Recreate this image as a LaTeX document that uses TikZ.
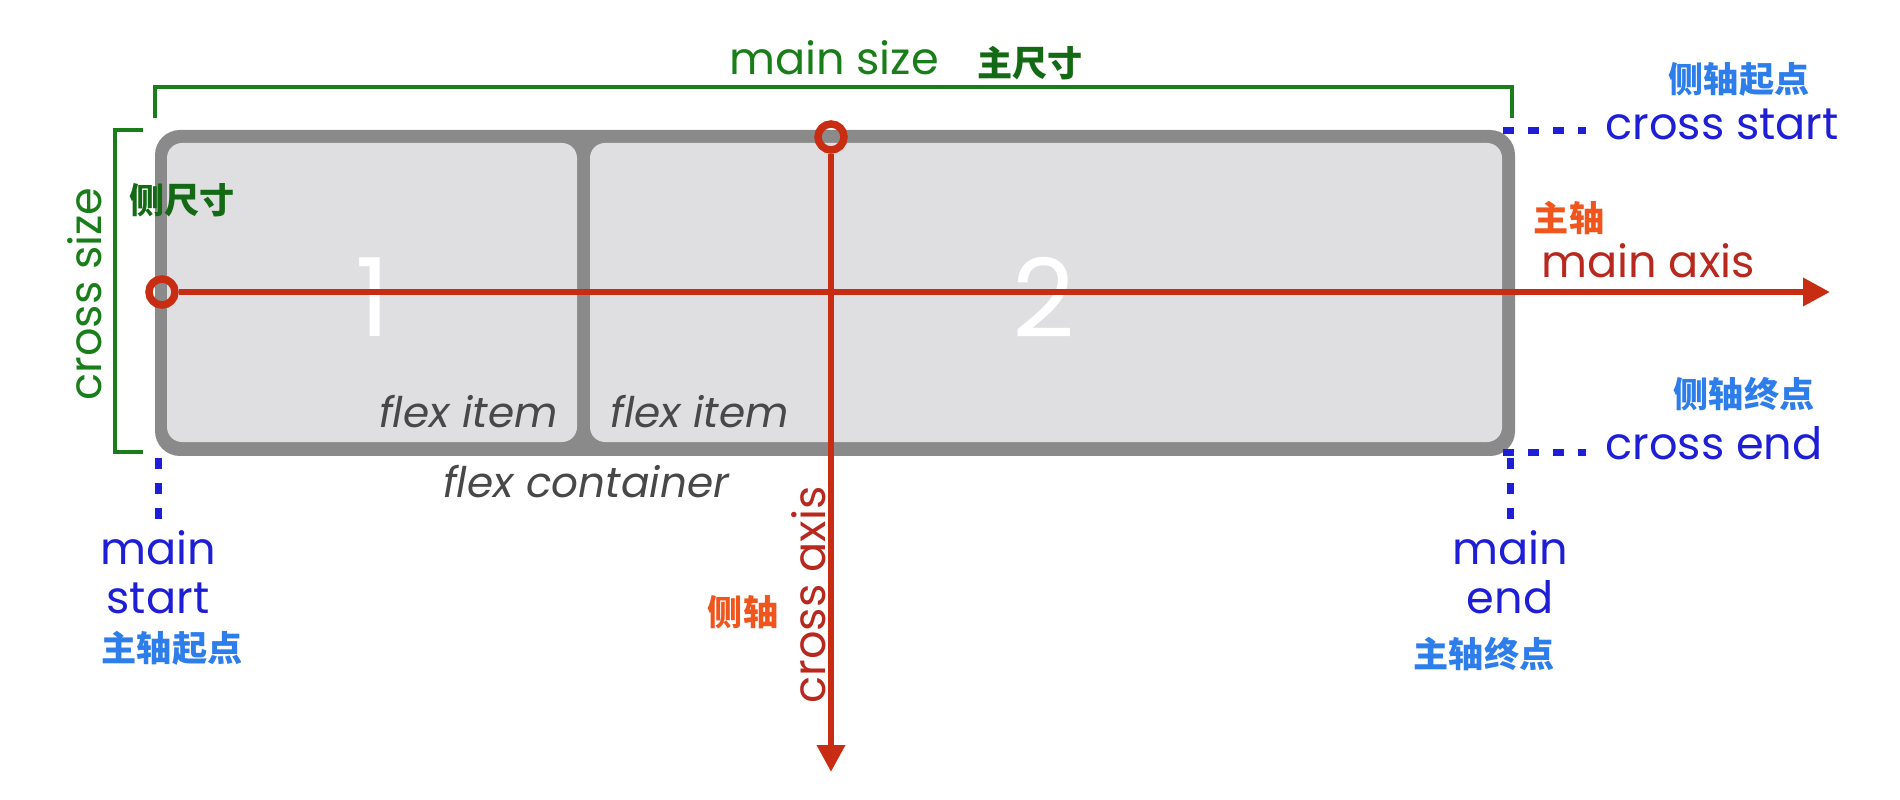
\documentclass[tikz,border=0pt]{standalone}
\usepackage{fontspec}
\setmainfont{Poppins}
\newfontfamily\cjk{Noto Sans CJK SC}
\usetikzlibrary{arrows.meta,positioning}
\definecolor{sizegreen}{RGB}{25,125,25}
\definecolor{cjkgreen}{RGB}{20,105,20}
\definecolor{edgeblue}{RGB}{30,30,215}
\definecolor{cjkblue}{RGB}{45,125,235}
\definecolor{axisred}{RGB}{200,45,20}
\definecolor{axistext}{RGB}{185,40,30}
\definecolor{cjkorange}{RGB}{240,85,30}
\definecolor{boxgray}{RGB}{138,138,138}
\definecolor{itemgray}{RGB}{223,223,226}
\definecolor{labgray}{RGB}{72,72,72}

\begin{document}
\begin{tikzpicture}[
    box/.style={rectangle, inner sep=0pt, outer sep=0pt},
    item/.style={box, fill=itemgray, rounded corners=0.15cm, minimum height=2.99cm},
    num/.style={text=white, font=\fontsize{31}{36}\selectfont},
    itm/.style={text=labgray, font=\fontsize{12}{14}\selectfont\itshape},
    big/.style={font=\fontsize{12.7}{15}\selectfont},
    cn/.style={font=\cjk\bfseries\fontsize{10}{12}\selectfont},
    ring/.style={circle, draw=axisred, line width=0.075cm, minimum size=0.26cm, inner sep=0pt},
    axis/.style={axisred, line width=0.065cm, -{Triangle[length=0.27cm, width=0.27cm]}},
    bracket/.style={sizegreen, line width=0.045cm},
    edge/.style={edgeblue, line width=0.07cm, dash pattern=on 0.11cm off 0.14cm}]
\useasboundingbox (0,0) rectangle (19,-8);
\node[box, fill=boxgray, rounded corners=0.25cm,
      minimum width=13.6cm, minimum height=3.26cm] (container) at (8.35,-2.93) {};
\node[item, minimum width=4.10cm] (item1) at (3.72,-2.925) {};
\node[item, minimum width=9.12cm] (item2) at (10.46,-2.925) {};
\node[num] (n1) at (3.73,-2.97) {1};
\node[num] (n2) at (10.44,-2.97) {2};
\node[itm, anchor=east] (fi1) at (5.70,-4.12) {flex item};
\node[itm, anchor=west] (fi2) at (5.98,-4.12) {flex item};
\node[itm] (fc) at (5.86,-4.82) {flex container};
\coordinate (ms1) at (1.55,-1.18);
\coordinate (ms2) at (15.12,-1.18);
\draw[bracket] (ms1) |- (1.55,-0.87) -| (ms2);
\coordinate (cs1) at (1.43,-1.30);
\coordinate (cs2) at (1.43,-4.52);
\draw[bracket] (cs1) -| (1.15,-2.9) |- (cs2);
\node[big, text=sizegreen] (mainsize) at (8.34,-0.58) {main size};
\node[cn, text=cjkgreen] (mainsizecn) at (10.30,-0.63) {主尺寸};
\node[big, text=sizegreen, rotate=90] (crosssize) at (0.85,-2.94) {cross size};
\node[cn, text=cjkgreen] (crosssizecn) at (1.82,-2.00) {侧尺寸};
\node[big, text=edgeblue, anchor=west] (cstart) at (15.93,-1.24) {cross start};
\node[big, text=edgeblue, anchor=west] (cend) at (15.93,-4.43) {cross end};
\node[cn, text=cjkblue] (cstartcn) at (17.39,-0.79) {侧轴起点};
\node[cn, text=cjkblue] (cendcn) at (17.44,-3.94) {侧轴终点};
\node[big, text=edgeblue, align=center, inner sep=1pt] (mstart) at (1.58,-5.72) {main\\[-1pt]start};
\node[big, text=edgeblue, align=center, inner sep=1pt] (mend) at (15.10,-5.72) {main\\[-1pt]end};
\node[cn, text=cjkblue] (mstartcn) at (1.72,-6.48) {主轴起点};
\node[cn, text=cjkblue] (mendcn) at (14.84,-6.54) {主轴终点};
\coordinate (csdash) at (15.03,-1.31);
\coordinate (cedash) at (15.03,-4.52);
\draw[edge] (csdash) -- ([xshift=-2pt]csdash -| cstart.west);
\draw[edge] (cedash) -- ([xshift=-2pt]cedash -| cend.west);
\draw[edge] (1.58,-4.58) -- (mstart.north);
\draw[edge] (15.10,-4.58) -- (mend.north);
\node[ring] (mring) at (1.62,-2.92) {};
\node[ring] (cring) at (8.31,-1.37) {};
\coordinate (mtip) at (18.30,-2.92);
\coordinate (ctip) at (8.31,-7.72);
\draw[axis] (mring.east) -- (mtip);
\draw[axis] (cring.south) -- (ctip);
\node[big, text=axistext] (maxis) at (16.48,-2.61) {main axis};
\node[cn, text=cjkorange] (maxiscn) at (15.69,-2.18) {主轴};
\node[big, text=axistext, rotate=90] (caxis) at (8.09,-5.95) {cross axis};
\node[cn, text=cjkorange] (caxiscn) at (7.43,-6.12) {侧轴};
\end{tikzpicture}
\end{document}
